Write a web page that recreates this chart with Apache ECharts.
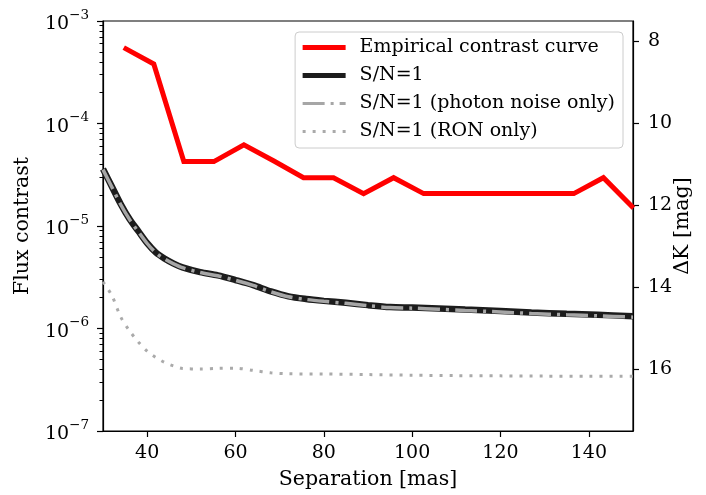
<!DOCTYPE html>
<html>
<head>
<meta charset="utf-8">
<script src="https://cdn.jsdelivr.net/npm/echarts@6/dist/echarts.min.js"></script>
<style>html,body{margin:0;padding:0;background:#fff;}#c{width:706px;height:495px;}</style>
</head>
<body>
<div id="c"></div>
<script>
// Empirical contrast curve
const empSep = [34.7, 41.5, 48.3, 55.1, 61.9, 68.7, 75.4, 82.2, 89.0, 95.8, 102.6, 109.4, 116.2, 123.0, 129.8, 136.6, 143.3, 150.1];
const empContrast = [5.5e-4, 3.8e-4, 4.25e-5, 4.25e-5, 6.2e-5, 4.3e-5, 2.96e-5, 2.96e-5, 2.07e-5, 2.96e-5, 2.07e-5, 2.07e-5, 2.07e-5, 2.07e-5, 2.07e-5, 2.07e-5, 2.96e-5, 1.5e-5];
// S/N=1 (total)
const snSep = [30, 32, 34, 36, 38, 40, 42, 44, 46, 48, 52, 56, 60, 64, 68, 72, 76, 80, 85, 90, 95, 100, 106, 112, 120, 127, 135, 142, 150];
const snTotal = [3.6e-5, 2.43e-5, 1.64e-5, 1.17e-5, 8.9e-6, 6.8e-6, 5.5e-6, 4.8e-6, 4.3e-6, 3.95e-6, 3.55e-6, 3.3e-6, 2.97e-6, 2.65e-6, 2.3e-6, 2.06e-6, 1.94e-6, 1.86e-6, 1.78e-6, 1.69e-6, 1.62e-6, 1.6e-6, 1.57e-6, 1.53e-6, 1.48e-6, 1.43e-6, 1.39e-6, 1.36e-6, 1.32e-6];
// S/N=1 (photon noise only)
const snPhoton = [3.55e-5, 2.4e-5, 1.62e-5, 1.16e-5, 8.8e-6, 6.75e-6, 5.45e-6, 4.75e-6, 4.27e-6, 3.92e-6, 3.52e-6, 3.27e-6, 2.95e-6, 2.63e-6, 2.28e-6, 2.04e-6, 1.92e-6, 1.84e-6, 1.76e-6, 1.67e-6, 1.6e-6, 1.58e-6, 1.54e-6, 1.5e-6, 1.45e-6, 1.4e-6, 1.36e-6, 1.33e-6, 1.29e-6];
// S/N=1 (RON only)
const ronSep = [30, 32, 34, 36, 38, 40, 42, 44, 46, 48, 52, 56, 60, 64, 68, 72, 80, 90, 100, 110, 120, 130, 140, 150];
const ronContrast = [2.85e-6, 2.1e-6, 1.3e-6, 9.5e-7, 7.4e-7, 6.0e-7, 5.2e-7, 4.65e-7, 4.3e-7, 4.07e-7, 4.03e-7, 4.08e-7, 4.1e-7, 3.9e-7, 3.7e-7, 3.62e-7, 3.6e-7, 3.55e-7, 3.5e-7, 3.47e-7, 3.45e-7, 3.43e-7, 3.42e-7, 3.42e-7];
// ticks
const xTicks = [40, 60, 80, 100, 120, 140];
const yMajorTicks = [1e-7, 1e-6, 1e-5, 1e-4, 1e-3];
const dkTicks = [8, 10, 12, 14, 16];
const seriesNames = ['Empirical contrast curve', 'S/N=1', 'S/N=1 (photon noise only)', 'S/N=1 (RON only)'];

const yMinorTicks = [];
for (let e = -7; e < -3; e++) for (let m = 2; m <= 9; m++) yMinorTicks.push(m * Math.pow(10, e));

const FONT = 'DejaVu Serif';
const TICK_FS = 19;
const NAME_FS = 20.5;
const zip = (a, b) => a.map((v, i) => [v, b[i]]);
const chart = echarts.init(document.getElementById('c'), null, {renderer: 'canvas'});
const hidden = {color: 'rgba(0,0,0,0)', borderColor: 'rgba(0,0,0,0)', borderWidth: 0, opacity: 0};

chart.setOption({
  animation: false,
  backgroundColor: '#ffffff',
  textStyle: {fontFamily: FONT, color: '#000'},
  grid: {left: 103, right: 73, top: 21, bottom: 61, show: true, borderColor: '#000', borderWidth: 1.2, backgroundColor: 'transparent'},
  legend: {
    right: 83, top: 32, orient: 'vertical',
    backgroundColor: 'rgba(255,255,255,0.8)', borderColor: '#cccccc', borderWidth: 1, borderRadius: 4,
    padding: [6, 8, 7, 5], itemWidth: 43, itemHeight: 14, itemGap: 9,
    textStyle: {fontFamily: FONT, fontSize: TICK_FS, color: '#000', lineHeight: 19, padding: [0, 0, 0, 9]},
    data: [
      {name: seriesNames[0], itemStyle: hidden, lineStyle: {color: '#ff0000', width: 5, type: 'solid'}},
      {name: seriesNames[1], itemStyle: hidden, lineStyle: {color: '#1c1c1c', width: 5, type: 'solid'}},
      {name: seriesNames[2], itemStyle: hidden, lineStyle: {color: '#a6a6a6', width: 3, type: [22, 6, 3, 6]}},
      {name: seriesNames[3], itemStyle: hidden, lineStyle: {color: '#aaaaaa', width: 3, type: [3, 7]}}
    ]
  },
  xAxis: {
    type: 'value', min: 30, max: 150,
    name: 'Separation [mas]', nameLocation: 'middle', nameGap: 38, nameMoveOverlap: false,
    nameTextStyle: {fontFamily: FONT, fontSize: NAME_FS, color: '#000'},
    axisLine: {show: true, lineStyle: {color: '#000', width: 1.2}},
    axisTick: {show: true, length: 6, customValues: xTicks, lineStyle: {color: '#000', width: 1.2}},
    axisLabel: {customValues: xTicks, margin: 13, fontFamily: FONT, fontSize: TICK_FS, color: '#000'},
    splitLine: {show: false}
  },
  yAxis: [
    {
      type: 'log', logBase: 10, min: 1e-7, max: 1e-3, position: 'left',
      name: 'Flux contrast', nameLocation: 'middle', nameGap: 70, nameRotate: 90, nameMoveOverlap: false,
      nameTextStyle: {fontFamily: FONT, fontSize: NAME_FS, color: '#000'},
      axisLine: {show: true, lineStyle: {color: '#000', width: 1.2}},
      axisTick: {show: true, length: 6, customValues: yMajorTicks, lineStyle: {color: '#000', width: 1.2}},
      axisLabel: {
        customValues: yMajorTicks, margin: 14, color: '#000',
        formatter: function (v) {
          const e = Math.round(Math.log10(v));
          return '{b|10}{s|' + String(e).replace('-', '\u2212') + '}';
        },
        rich: {
          b: {fontFamily: FONT, fontSize: TICK_FS, color: '#000', lineHeight: 26, verticalAlign: 'bottom'},
          s: {fontFamily: FONT, fontSize: 13.5, color: '#000', lineHeight: 26, verticalAlign: 'top'}
        }
      },
      splitLine: {show: false}
    },
    {
      type: 'log', logBase: 10, min: 1e-7, max: 1e-3, position: 'left',
      axisLine: {show: false},
      axisTick: {show: true, length: 3.5, customValues: yMinorTicks, lineStyle: {color: '#000', width: 1}},
      axisLabel: {show: false},
      splitLine: {show: false}
    },
    {
      type: 'value', min: 7.5, max: 17.5, inverse: true, position: 'right',
      name: '\u0394K [mag]', nameLocation: 'middle', nameGap: 39, nameRotate: 90, nameMoveOverlap: false,
      nameTextStyle: {fontFamily: FONT, fontSize: NAME_FS, color: '#000'},
      axisLine: {show: true, lineStyle: {color: '#000', width: 1.2}},
      axisTick: {show: true, length: 6, customValues: dkTicks, lineStyle: {color: '#000', width: 1.2}},
      axisLabel: {customValues: dkTicks, margin: 15, fontFamily: FONT, fontSize: TICK_FS, color: '#000'},
      splitLine: {show: false}
    }
  ],
  series: [
    {name: seriesNames[0], type: 'line', yAxisIndex: 0, data: zip(empSep, empContrast), showSymbol: false, symbol: 'none',
     lineStyle: {color: '#ff0000', width: 5, join: 'miter'}, itemStyle: {color: '#ff0000'}},
    {name: seriesNames[1], type: 'line', yAxisIndex: 0, data: zip(snSep, snTotal), showSymbol: false, symbol: 'none', smooth: 0.3,
     lineStyle: {color: '#1c1c1c', width: 6.5}, itemStyle: {color: '#1c1c1c'}},
    {name: seriesNames[2], type: 'line', yAxisIndex: 0, data: zip(snSep, snPhoton), showSymbol: false, symbol: 'none', smooth: 0.3,
     lineStyle: {color: '#a6a6a6', width: 3.5, type: [22, 6, 3, 6]}, itemStyle: {color: '#a6a6a6'}},
    {name: seriesNames[3], type: 'line', yAxisIndex: 0, data: zip(ronSep, ronContrast), showSymbol: false, symbol: 'none', smooth: 0.3,
     lineStyle: {color: '#aaaaaa', width: 3, type: [3, 7]}, itemStyle: {color: '#aaaaaa'}}
  ]
});
</script>
</body>
</html>
